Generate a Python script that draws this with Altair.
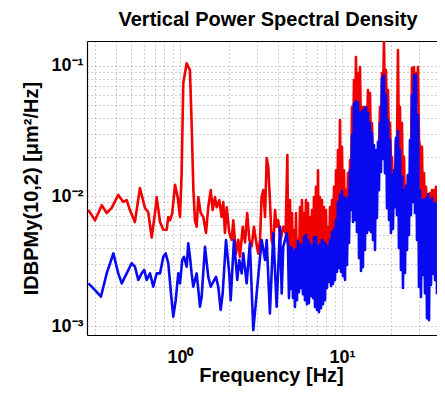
import altair as alt
import pandas as pd

# ---- low-frequency part ----
red_f = [0.272, 0.299, 0.329, 0.353, 0.379, 0.416, 0.447, 0.469, 0.491, 0.527,
         0.566, 0.608, 0.637, 0.669, 0.701, 0.718, 0.753, 0.789, 0.828, 0.847,
         0.868, 0.896, 0.932, 0.968, 1.000, 1.024, 1.048, 1.100, 1.152, 1.180,
         1.210, 1.238, 1.268, 1.297, 1.342, 1.393, 1.447, 1.495, 1.548, 1.592,
         1.644, 1.685, 1.749, 1.808, 1.850, 1.895, 1.942, 2.015, 2.085, 2.134,
         2.216, 2.290, 2.345, 2.44, 2.52, 2.60, 2.68, 2.77, 2.86, 2.94,
         3.04, 3.12, 3.19, 3.27, 3.35, 3.43, 3.51, 3.59, 3.68, 3.77,
         3.86, 3.95, 4.04, 4.18, 4.34, 4.49, 4.60]
red_v = [0.0078, 0.0065, 0.0085, 0.0074, 0.0081, 0.0102, 0.0090, 0.0093, 0.0078, 0.0063,
         0.0115, 0.0081, 0.0075, 0.0048, 0.0074, 0.0098, 0.0063, 0.0055, 0.0055, 0.0069,
         0.0065, 0.0074, 0.0122, 0.0098, 0.0069, 0.0150, 0.074, 0.105, 0.093, 0.036,
         0.0111, 0.0065, 0.0058, 0.0098, 0.0074, 0.0069, 0.0052, 0.0082, 0.0111, 0.0078,
         0.0098, 0.0082, 0.0093, 0.0069, 0.0090, 0.0052, 0.0082, 0.0052, 0.0046, 0.0065,
         0.0036, 0.0046, 0.0034, 0.0058, 0.0044, 0.0074, 0.0046, 0.0041, 0.0058, 0.0046,
         0.0036, 0.0046, 0.0098, 0.0111, 0.0069, 0.0196, 0.0167, 0.0093, 0.0046, 0.0041,
         0.0078, 0.0058, 0.0065, 0.0046, 0.0058, 0.0052, 0.0207]

blue_f = [0.272, 0.299, 0.325, 0.353, 0.388, 0.416, 0.437, 0.469, 0.503, 0.527,
          0.553, 0.580, 0.602, 0.623, 0.653, 0.684, 0.718, 0.753, 0.789, 0.816,
          0.847, 0.880, 0.909, 0.941, 0.976, 1.000, 1.033, 1.058, 1.100, 1.125,
          1.152, 1.180, 1.208, 1.268, 1.329, 1.361, 1.427, 1.495, 1.548, 1.668,
          1.723, 1.783, 1.835, 1.923, 2.015, 2.056, 2.154, 2.258, 2.323, 2.404,
          2.459, 2.580, 2.700, 2.835, 2.975, 3.194, 3.350, 3.430, 3.590, 3.770,
          3.950, 4.144, 4.245, 4.340, 4.557]
blue_v = [0.00213, 0.00189, 0.00168, 0.00254, 0.00362, 0.00254, 0.00213, 0.00254, 0.00304, 0.00286,
          0.00226, 0.00254, 0.00270, 0.00226, 0.00254, 0.00201, 0.00254, 0.00254, 0.00341, 0.00362,
          0.00304, 0.00178, 0.00118, 0.00158, 0.00254, 0.00213, 0.00322, 0.00341, 0.00286, 0.00433,
          0.00341, 0.00254, 0.00201, 0.00254, 0.00141, 0.00168, 0.00407, 0.00239, 0.00201, 0.00239,
          0.00201, 0.00133, 0.00178, 0.00459, 0.00254, 0.00158, 0.00459, 0.00226, 0.00322, 0.00254,
          0.00362, 0.00213, 0.00433, 0.00093, 0.00178, 0.00459, 0.00322, 0.00459, 0.00125, 0.00516,
          0.00141, 0.0058, 0.00178, 0.00407, 0.00516]

# ---- dense high-frequency part, common frequency bins ----
hf_f = [4.642, 4.708, 4.775, 4.843, 4.914, 4.984, 5.054, 5.126, 5.200, 5.274,
        5.350, 5.427, 5.504, 5.583, 5.663, 5.744, 5.826, 5.909, 5.995, 6.081,
        6.168, 6.256, 6.346, 6.437, 6.529, 6.622, 6.718, 6.814, 6.911, 7.010,
        7.111, 7.213, 7.315, 7.420, 7.526, 7.634, 7.744, 7.855, 7.967, 8.081,
        8.197, 8.314, 8.434, 8.555, 8.677, 8.801, 8.927, 9.055, 9.185, 9.317,
        9.447, 9.582, 9.72, 9.859, 10.0, 10.14, 10.29, 10.44, 10.59, 10.74,
        10.89, 11.05, 11.21, 11.37, 11.53, 11.70, 11.86, 12.03, 12.20, 12.37,
        12.56, 12.74, 12.92, 13.11, 13.29, 13.48, 13.67, 13.87, 14.07, 14.27,
        14.47, 14.68, 14.89, 15.10, 15.32, 15.54, 15.76, 15.99, 16.21, 16.44,
        16.68, 16.92, 17.16, 17.41, 17.66, 17.91, 18.16, 18.42, 18.69, 18.96,
        19.23, 19.51, 19.78, 20.06, 20.35, 20.64, 20.94, 21.24, 21.54, 21.85,
        22.16, 22.48, 22.80, 23.13, 23.46, 23.80, 24.14, 24.49, 24.84, 25.20,
        25.55, 25.92, 26.29, 26.67, 27.05, 27.44, 27.83, 28.23, 28.63, 29.04,
        29.46, 29.88, 30.31, 30.74, 31.18, 31.63, 32.08, 32.54, 33.01, 33.48,
        33.96, 34.45, 34.94, 35.44, 35.94, 36.45, 36.98, 37.51, 38.05, 38.59,
        39.15, 39.71, 40.27, 40.85, 41.44, 42.03, 42.63]
hf_red = [0.00599, 0.0028, 0.0093, 0.0027, 0.0074, 0.00261, 0.00548, 0.00247, 0.0074, 0.00261,
          0.00459, 0.0028, 0.00823, 0.0027, 0.0093, 0.00295, 0.0074, 0.00311, 0.0093, 0.00311,
          0.00882, 0.0029, 0.0069, 0.0027, 0.0078, 0.00311, 0.0098, 0.00311, 0.01175, 0.0028,
          0.0158, 0.0027, 0.0098, 0.00295, 0.0093, 0.00295, 0.00823, 0.0028, 0.0078, 0.0028,
          0.00578, 0.0028, 0.00823, 0.00311, 0.0093, 0.00351, 0.01175, 0.00384, 0.0158, 0.00459,
          0.0226, 0.00599, 0.0384, 0.00677, 0.0239, 0.00714, 0.0158, 0.00631, 0.0111, 0.00631,
          0.0150, 0.00654, 0.0189, 0.0102, 0.0484, 0.0189, 0.0780, 0.0322, 0.1172, 0.0333,
          0.0884, 0.0322, 0.0982, 0.0295, 0.0484, 0.0295, 0.0484, 0.0311, 0.0200, 0.0322,
          0.0654, 0.0270, 0.0620, 0.0226, 0.0364, 0.0173, 0.0200, 0.0145, 0.0150, 0.0158,
          0.0179, 0.0226, 0.0484, 0.0247, 0.0884, 0.0548, 0.153, 0.0548, 0.0931, 0.0384,
          0.0654, 0.0247, 0.0364, 0.0189, 0.0200, 0.0102, 0.0126, 0.0121, 0.0270, 0.0226,
          0.1327, 0.0226, 0.0484, 0.0133, 0.0364, 0.0093, 0.0200, 0.0078, 0.0111, 0.00852,
          0.0145, 0.0102, 0.00823, 0.0173, 0.0965, 0.0384, 0.0982, 0.0548, 0.0884, 0.0548,
          0.0982, 0.0270, 0.0239, 0.00714, 0.0239, 0.00654, 0.0150, 0.00654, 0.01175, 0.00654,
          0.0098, 0.00677, 0.01054, 0.00654, 0.0111, 0.00631, 0.0111, 0.00599, 0.01175, 0.00631,
          0.0111, 0.00654, 0.0126, 0.00677, 0.01175, 0.00654, 0.01175]
hf_blue = [0.00413, 0.00164, 0.00406, 0.00193, 0.00398, 0.00164, 0.00377, 0.00140, 0.00391, 0.00158,
           0.00451, 0.00182, 0.00428, 0.00196, 0.00413, 0.00176, 0.00484, 0.00158, 0.00502, 0.00147,
           0.00459, 0.00150, 0.00428, 0.00170, 0.00413, 0.00164, 0.00484, 0.00140, 0.00484, 0.00133,
           0.00413, 0.00128, 0.00428, 0.00137, 0.00459, 0.00147, 0.00443, 0.00158, 0.00428, 0.00196,
           0.00406, 0.00218, 0.00459, 0.00203, 0.00529, 0.00211, 0.00558, 0.00226, 0.00654, 0.00261,
           0.00898, 0.00280, 0.01016, 0.00261, 0.01091, 0.00243, 0.00981, 0.00226, 0.00947, 0.00295,
           0.00981, 0.00435, 0.0158, 0.0078, 0.0295, 0.00631, 0.0511, 0.00654, 0.0538, 0.00529,
           0.0520, 0.00333, 0.0435, 0.00265, 0.0451, 0.00284, 0.0467, 0.00384, 0.0484, 0.00520,
           0.0435, 0.00548, 0.0364, 0.00529, 0.0305, 0.00459, 0.0247, 0.00384, 0.0226, 0.00677,
           0.0261, 0.0111, 0.0364, 0.0153, 0.0808, 0.0193, 0.0852, 0.0150, 0.0599, 0.00807,
           0.0384, 0.00654, 0.0270, 0.00520, 0.0145, 0.00558, 0.0158, 0.00822, 0.0280, 0.00714,
           0.0316, 0.00398, 0.0226, 0.0027, 0.0142, 0.00196, 0.0111, 0.00256, 0.0120, 0.00384,
           0.0145, 0.00502, 0.0270, 0.00714, 0.0599, 0.00898, 0.0852, 0.0074, 0.0852, 0.00459,
           0.0420, 0.00200, 0.0111, 0.00167, 0.0093, 0.00247, 0.0093, 0.00179, 0.00963, 0.00115,
           0.01034, 0.00111, 0.0093, 0.00207, 0.00963, 0.00252, 0.00882, 0.00226, 0.00866, 0.00179,
           0.0093, 0.00214, 0.00981, 0.00243, 0.0093, 0.00234, 0.0093]

# ---- axes ----
x_ticks = [0.3, 0.4, 0.5, 0.6, 0.7, 0.8, 0.9, 1, 2, 3, 4, 5, 6, 7, 8, 9, 10, 20, 30]
y_ticks = [0.001, 0.002, 0.003, 0.004, 0.005, 0.006, 0.007, 0.008, 0.009,
           0.01, 0.02, 0.03, 0.04, 0.05, 0.06, 0.07, 0.08, 0.09, 0.1]
x_domain = [0.2667, 38.6]
y_domain = [0.000853, 0.1557]

red_df = pd.DataFrame({"freq": red_f + hf_f, "psd": red_v + hf_red})
blue_df = pd.DataFrame({"freq": blue_f + hf_f, "psd": blue_v + hf_blue})

FONT = "Liberation Sans"
xs = alt.Scale(type="log", domain=x_domain, nice=False)
ys = alt.Scale(type="log", domain=y_domain, nice=False)

x_axis = alt.Axis(
    values=x_ticks,
    labelExpr="datum.value == 1 ? '10⁰' : datum.value == 10 ? '10¹' : ''",
    title="Frequency [Hz]", titleFont=FONT, titleFontSize=20, titleFontWeight="bold",
    titleColor="black", titleY=46, titleX=184, titleBaseline="alphabetic",
    labelFont=FONT, labelFontSize=18, labelFontWeight="bold", labelColor="black",
    labelPadding=13, labelOverlap=False, labelFlush=False,
    ticks=False, domain=True, domainColor="black", domainWidth=1.2,
    grid=True, gridColor="#9c9c9c", gridDash=[1, 3], gridWidth=1,
)
y_axis = alt.Axis(
    values=y_ticks,
    labelExpr="datum.value == 0.1 ? '10⁻¹' : datum.value == 0.01 ? '10⁻²' : datum.value == 0.001 ? '10⁻³' : ''",
    title="IDBPMy(10,2) [μm²/Hz]", titleFont=FONT, titleFontSize=20, titleFontWeight="bold",
    titleColor="black", titleX=-56, titleY=147, titleAngle=270, titleAlign="center",
    titleBaseline="middle",
    labelFont=FONT, labelFontSize=18, labelFontWeight="bold", labelColor="black",
    labelPadding=4, labelOverlap=False, labelFlush=False,
    ticks=False, domain=True, domainColor="black", domainWidth=1.2,
    grid=True, gridColor="#9c9c9c", gridDash=[1, 3], gridWidth=1,
)
top_axis = alt.Axis(orient="top", labels=False, ticks=False, grid=False, domain=True,
                    domainColor="black", domainWidth=1.2, title=None)

red = alt.Chart(red_df).mark_line(color="#f00000", strokeWidth=2.6, clip=True,
                                  strokeJoin="round").encode(
    x=alt.X("freq:Q", scale=xs, axis=x_axis),
    y=alt.Y("psd:Q", scale=ys, axis=y_axis),
)
blue = alt.Chart(blue_df).mark_line(color="#0a0af0", strokeWidth=2.6, clip=True,
                                    strokeJoin="round").encode(
    x=alt.X("freq:Q", scale=xs, axis=top_axis),
    y=alt.Y("psd:Q", scale=ys, axis=None),
)

chart = alt.layer(red, blue).resolve_axis(x="independent", y="independent").properties(
    width=350, height=294,
    title=alt.TitleParams("Vertical Power Spectral Density", font=FONT, fontSize=20,
                          fontWeight="bold", color="black", anchor="middle", frame="group",
                          baseline="alphabetic", offset=1, dx=6, dy=6),
    autosize=alt.AutoSizeParams(type="none"),
    padding={"left": 79, "top": 33, "right": 0, "bottom": 51},
    background="white",
).configure_view(stroke=None)

chart.save("out.html", embed_options={"renderer": "svg", "actions": False})
